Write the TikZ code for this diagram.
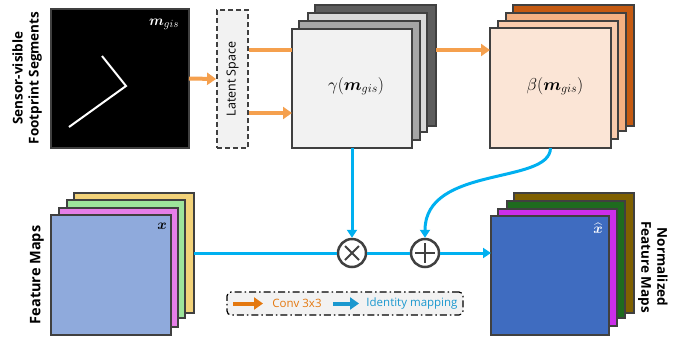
\documentclass[tikz,border=0pt]{standalone}
\usepackage{amsmath,bm}
\usepackage{fontspec}
\setmainfont{Open Sans}
\usetikzlibrary{arrows.meta,calc}
\definecolor{bd}{HTML}{404040}
\definecolor{org}{HTML}{F5A04E}
\definecolor{blu}{HTML}{00B0F0}
\definecolor{lorg}{HTML}{E4780F}
\definecolor{lblu}{HTML}{1B98CF}
\tikzset{
  lay/.style={draw=bd, line width=2.5pt, inner sep=0pt, outer sep=0pt},
  oline/.style={draw=org, line width=4pt},
  oarr/.style={oline, -{Triangle[length=9pt,width=12pt]}},
  bline/.style={draw=blu, line width=3pt},
  barr/.style={bline, -{Triangle[length=8pt,width=10pt]}},
  opnode/.style={circle, draw=bd, line width=2.5pt, minimum size=28pt, inner sep=0pt, fill=white},
  sidelbl/.style={font=\bfseries\fontsize{13.5}{16}\selectfont, align=center},
}
\newcommand\mylayer[6]{\node[lay, fill=#6, minimum width={(#4-#2)*1pt}, minimum height={(#5-#3)*1pt}] (#1) at ({(#2+#4)/2},{(#3+#5)/2}) {};}
\begin{document}
\begin{tikzpicture}[x=1pt,y=-1pt]
\useasboundingbox (0,0) rectangle (697,341);
% top-left input
\node[sidelbl, rotate=90] (lblin) at (27,78) {Sensor-visible\\Footprint Segments};
\mylayer{mgis}{51}{9}{189}{148}{black}
\coordinate (p1) at (69,127);
\coordinate (p2) at (126,86);
\coordinate (p3) at (102,56);
\draw[white, line width=2pt] (p1) -- (p2) -- (p3);
\node[text=white, font=\fontsize{15}{15}\selectfont] (mlbl) at (164,24) {$\bm{m}_{gis}$};
% latent
\node[draw=bd, dash pattern=on 5pt off 3pt, line width=1.8pt, fill=black!5, minimum width=31pt, minimum height=138pt, inner sep=0pt] (lat) at (232.5,79) {};
\node[rotate=90, font=\fontsize{12.5}{14}\selectfont] (latlbl) at (lat) {Latent Space};
% gamma stack
\mylayer{g3}{315}{5}{436}{126}{bd!85}
\mylayer{g2}{308}{13}{427}{132}{black!15}
\mylayer{g1}{299}{21}{420}{140}{black!35}
\mylayer{gam}{292}{29}{412}{148}{black!5}
\node[font=\fontsize{18}{18}\selectfont] (gamlbl) at (356,86) {$\gamma(\bm{m}_{gis})$};
% beta stack
\definecolor{b3c}{HTML}{C55A11}
\definecolor{b2c}{HTML}{F4B183}
\definecolor{b1c}{HTML}{F8CBAD}
\definecolor{b0c}{HTML}{FBE5D6}
\mylayer{b3}{513}{5}{634}{126}{b3c}
\mylayer{b2}{506}{13}{626}{131}{b2c}
\mylayer{b1}{498}{21}{618}{139}{b1c}
\mylayer{bet}{490}{28}{611}{148}{b0c}
\node[font=\fontsize{18}{18}\selectfont] (betlbl) at (555,86) {$\beta(\bm{m}_{gis})$};
% orange connectors
\coordinate (gy) at (0,50);
\coordinate (ly) at (0,113);
\draw[oarr] (mgis.east) -- (lat.west);
\draw[oline] (lat.east |- gy) -- (gam.west |- gy);
\draw[oarr] (lat.east |- ly) -- (gam.west |- ly);
\draw[oarr] (g3.east |- gy) -- (bet.west |- gy);
% feature maps
\definecolor{f3c}{HTML}{F2D279}
\definecolor{f2c}{HTML}{9DE49B}
\definecolor{f1c}{HTML}{E67FE8}
\definecolor{f0c}{HTML}{8FAADC}
\node[sidelbl, rotate=90, font=\bfseries\fontsize{14.5}{16}\selectfont] (lblfm) at (37,275) {Feature Maps};
\mylayer{f3}{74}{193}{194}{313}{f3c}
\mylayer{f2}{67}{200}{185}{318}{f2c}
\mylayer{f1}{59}{208}{178}{327}{f1c}
\mylayer{fm}{51}{215}{171}{335}{f0c}
\node[font=\fontsize{15}{15}\selectfont] (xlbl) at (162,226) {$\bm{x}$};
% normalized
\definecolor{n3c}{HTML}{7F6000}
\definecolor{n2c}{HTML}{1E6B1E}
\definecolor{n1c}{HTML}{CC2EEA}
\definecolor{n0c}{HTML}{3F6CC0}
\node[sidelbl, rotate=-90] (lblnm) at (653,267) {Normalized\\Feature Maps};
\mylayer{n3}{514}{193}{634}{313}{n3c}
\mylayer{n2}{507}{201}{625}{318}{n2c}
\mylayer{n1}{498}{209}{617}{326}{n1c}
\mylayer{nm}{491}{216}{609}{335}{n0c}
\node[text=white, font=\fontsize{15}{15}\selectfont, inner sep=1pt] (xhlbl) at (598,228) {$\widehat{\bm{x}}$};
% operators
\node[opnode] (mul) at (352,253) {};
\draw[bd, line width=2pt] ($(mul)+(-7,-7)$) -- ($(mul)+(7,7)$) ($(mul)+(-7,7)$) -- ($(mul)+(7,-7)$);
\node[opnode] (add) at (425,253) {};
\draw[bd, line width=2pt] ($(add)+(-10,0)$) -- ($(add)+(10,0)$) ($(add)+(0,-10)$) -- ($(add)+(0,10)$);
% blue connectors
\draw[barr] (gam.south) -- (mul.north);
\draw[bline] (f3.east |- mul) -- (mul.west);
\draw[bline] (mul.east) -- (add.west);
\draw[barr] (add.east) -- (nm.west |- add);
\draw[barr] (bet.south) .. controls (550,185) and (425,165) .. (add.north);
% legend
\node[draw=black, line width=1.2pt, dash pattern=on 7pt off 3pt on 1.5pt off 3pt, rounded corners=4pt, fill=black!5, minimum width=236pt, minimum height=23pt, inner sep=0pt] (leg) at (345,303.5) {};
\coordinate (la1) at (233,303.5);
\coordinate (la2) at (263,303.5);
\coordinate (lb1) at (333,303.5);
\coordinate (lb2) at (359,303.5);
\draw[lorg, line width=4pt, -{Triangle[length=9pt,width=12pt]}] (la1) -- (la2);
\node[text=lorg, font=\fontsize{11.5}{13}\selectfont] (conv) at (297,303.5) {Conv 3x3};
\draw[lblu, line width=4pt, -{Triangle[length=9pt,width=12pt]}] (lb1) -- (lb2);
\node[text=lblu, font=\fontsize{11.5}{13}\selectfont] (idm) at (412,303.5) {Identity mapping};
\end{tikzpicture}
\end{document}
